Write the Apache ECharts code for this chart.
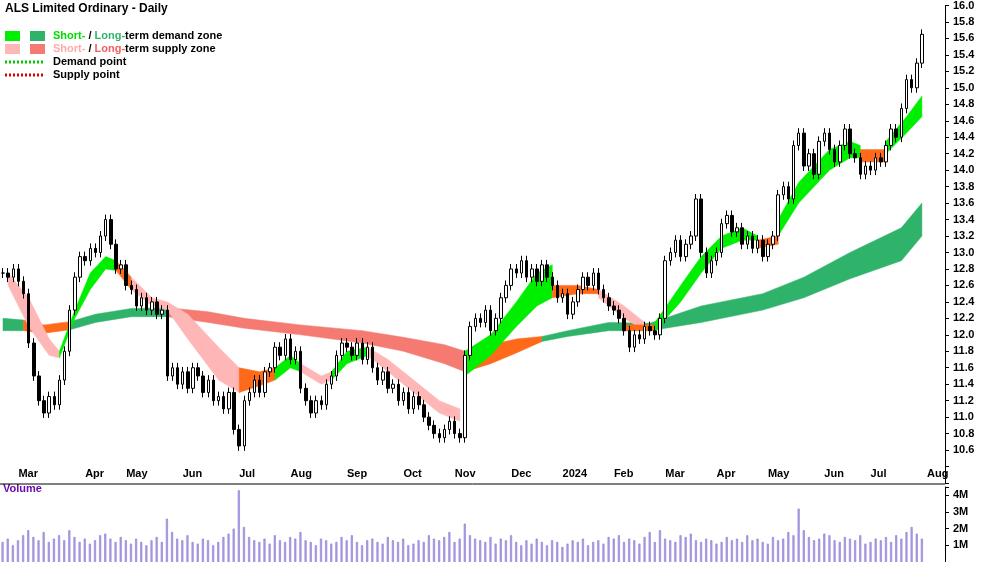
<!DOCTYPE html>
<html><head><meta charset="utf-8">
<script src="https://cdn.jsdelivr.net/npm/echarts@6/dist/echarts.min.js"></script>
<style>html,body{margin:0;padding:0;background:#fff}#c{width:1000px;height:562px}</style>
</head><body><div id="c"></div>
<script>
const closes=[12.75,12.7,12.8,12.65,12.5,11.9,11.5,11.2,11.05,11.25,11.15,11.45,11.8,12.3,12.7,12.95,12.9,13.05,13.0,13.2,13.4,13.1,12.8,12.85,12.6,12.55,12.35,12.45,12.3,12.4,12.25,12.3,11.5,11.6,11.4,11.55,11.35,11.6,11.5,11.3,11.45,11.2,11.25,11.1,11.3,10.85,10.65,11.2,11.3,11.45,11.3,11.55,11.6,11.85,11.75,11.95,11.7,11.8,11.35,11.2,11.05,11.2,11.15,11.4,11.5,11.75,11.9,11.85,11.75,11.9,11.7,11.85,11.6,11.45,11.55,11.35,11.4,11.2,11.3,11.1,11.25,11.15,11.0,10.9,10.8,10.75,10.85,10.95,10.8,10.75,11.75,12.1,12.2,12.15,12.3,12.05,12.2,12.45,12.6,12.8,12.75,12.9,12.7,12.8,12.65,12.85,12.7,12.6,12.45,12.5,12.25,12.4,12.55,12.7,12.6,12.75,12.55,12.45,12.35,12.3,12.2,12.05,11.85,12.0,11.95,12.1,12.05,12.0,12.2,12.9,13.0,13.15,12.95,13.1,13.2,13.65,13.0,12.75,12.9,13.0,13.35,13.45,13.25,13.3,13.1,13.2,13.05,13.15,12.95,13.1,13.2,13.7,13.8,13.65,14.3,14.45,14.05,14.2,13.95,14.35,14.45,14.25,14.1,14.3,14.5,14.2,14.15,13.95,14.05,14.0,14.15,14.1,14.3,14.5,14.4,14.75,15.1,15.0,15.3,15.65];
const volumes=[1.2,1.4,1.0,1.3,1.6,1.9,1.5,1.3,1.8,1.2,1.4,1.6,1.3,1.9,1.5,1.2,1.4,1.1,1.3,1.6,1.7,1.4,1.2,1.5,1.3,1.1,1.4,1.2,1.0,1.3,1.5,1.2,2.6,1.8,1.4,1.3,1.6,1.2,1.1,1.4,1.3,1.0,1.2,1.5,1.7,2.0,4.3,2.1,1.5,1.3,1.2,1.4,1.1,1.6,1.3,1.2,1.5,1.4,1.8,1.3,1.2,1.0,1.4,1.3,1.1,1.2,1.5,1.3,1.6,1.2,1.0,1.3,1.4,1.2,1.1,1.5,1.3,1.2,1.4,1.0,1.1,1.3,1.2,1.6,1.4,1.3,1.5,1.8,1.2,1.4,2.3,1.6,1.4,1.3,1.2,1.5,1.1,1.4,1.3,1.6,1.2,1.0,1.3,1.1,1.4,1.2,1.0,1.3,1.2,0.9,1.1,1.3,1.2,1.4,1.0,1.2,1.3,1.1,1.5,1.4,1.6,1.2,1.4,1.3,1.1,1.5,1.8,1.2,1.9,1.4,1.3,1.2,1.6,1.5,1.7,1.3,1.2,1.4,1.3,1.1,1.2,1.5,1.3,1.4,1.2,1.6,1.3,1.4,1.2,1.1,1.5,1.3,1.4,1.8,1.6,3.2,1.9,1.5,1.3,1.4,1.7,1.6,1.3,1.2,1.5,1.4,1.3,1.6,1.1,1.2,1.4,1.3,1.5,1.2,1.6,1.4,1.8,2.1,1.7,1.4];
const monthTicks=[[3,'Mar'],[16,'Apr'],[24,'May'],[35,'Jun'],[46,'Jul'],[56,'Aug'],[67,'Sep'],[78,'Oct'],[88,'Nov'],[99,'Dec'],[109,'2024'],[119,'Feb'],[129,'Mar'],[139,'Apr'],[149,'May'],[160,'Jun'],[169,'Jul'],[180,'Aug']];
const longBand=[
 ['ld',[[0,12.05,12.2],[4,12.05,12.18]]],
 ['ov',[[4,12.05,12.18],[8,12.02,12.12],[13,12.06,12.16]]],
 ['ld',[[13,12.06,12.16],[18,12.15,12.25],[25,12.22,12.32],[32,12.22,12.33]]],
 ['ls',[[32,12.22,12.33],[40,12.15,12.28],[47,12.08,12.2],[58,12.0,12.12],[70,11.9,12.05],[78,11.8,11.97],[86,11.65,11.88],[90,11.55,11.8]]],
 ['ov',[[90,11.55,11.8],[95,11.65,11.88],[100,11.78,11.95],[105,11.92,11.98]]],
 ['ld',[[105,11.92,11.98],[110,11.98,12.05],[118,12.05,12.15],[126,12.05,12.14],[136,12.15,12.35],[148,12.3,12.5],[156,12.45,12.7],[165,12.68,13.0],[175,12.9,13.3],[179,13.2,13.6]]]];
const shortBand=[
 ['ss',[[1,12.6,12.75],[5,12.1,12.45],[9,11.75,11.95],[11,11.72,11.8]]],
 ['sd',[[11,11.72,11.8],[14,12.2,12.3],[17,12.55,12.75],[20,12.8,12.95],[22,12.78,12.9]]],
 ['ov',[[22,12.78,12.9],[25,12.55,12.7]]],
 ['ss',[[25,12.55,12.7],[29,12.35,12.45],[32,12.3,12.4],[36,11.95,12.25],[42,11.45,11.85],[46,11.3,11.6]]],
 ['ov',[[46,11.3,11.6],[50,11.38,11.55],[53,11.45,11.6]]],
 ['sd',[[53,11.45,11.6],[56,11.6,11.75],[58,11.55,11.65]]],
 ['ss',[[58,11.55,11.65],[62,11.4,11.5],[64,11.45,11.55]]],
 ['sd',[[64,11.45,11.55],[67,11.65,11.8],[71,11.75,11.85]]],
 ['ss',[[71,11.75,11.85],[75,11.55,11.7],[80,11.3,11.45],[85,11.05,11.2],[89,10.95,11.1]]],
 ['sd',[[90,11.5,11.8],[95,11.75,12.0],[100,12.1,12.4],[104,12.35,12.75],[107,12.45,12.85]]],
 ['ov',[[107,12.45,12.6],[112,12.5,12.6],[116,12.5,12.55]]],
 ['ss',[[116,12.45,12.55],[121,12.2,12.35],[125,12.05,12.15]]],
 ['ov',[[121,12.05,12.12],[127,12.05,12.12]]],
 ['sd',[[127,12.05,12.15],[132,12.4,12.6],[136,12.75,12.95],[140,13.05,13.2],[144,13.15,13.3],[147,13.15,13.2]]],
 ['ov',[[147,13.05,13.15],[151,13.1,13.2]]],
 ['sd',[[151,13.2,13.4],[155,13.6,13.85],[161,14.0,14.25],[165,14.15,14.35],[167,14.15,14.3]]],
 ['ov',[[167,14.1,14.25],[172,14.1,14.25]]],
 ['sd',[[172,14.2,14.35],[176,14.45,14.65],[179,14.65,14.9]]]];
const zoneColors={ld:'#2fb36b',sd:'#00ee00',ss:'#ffb6b6',ls:'#f47a72',ov:'#ff6a1a'};

const N=184;
const cats=[];for(let i=0;i<N;i++)cats.push(String(i));
const monthMap={};monthTicks.forEach(m=>monthMap[m[0]]=m[1]);
const candles=closes.map((c,i)=>{const o=i?closes[i-1]:c;return [o,c,Math.min(o,c)-0.06,Math.max(o,c)+0.06];});

function bandSeries(list){return list.map(([k,pts])=>({type:'custom',xAxisIndex:0,yAxisIndex:0,silent:true,z:1,
 data:[0],renderItem:(p,api)=>{const top=pts.map(q=>api.coord([q[0],q[2]]));const bot=pts.slice().reverse().map(q=>api.coord([q[0],q[1]]));
  return {type:'polygon',shape:{points:top.concat(bot)},style:{fill:zoneColors[k],stroke:zoneColors[k],lineWidth:0.5}};}}));}

const chart=echarts.init(document.getElementById('c'));
const F={fontSize:11,fontWeight:'bold',fontFamily:'Arial'};
const rt={t:{...F,fill:'#000'},g:{...F,fill:'#00dd00'},dg:{...F,fill:'#2fb36b'},p:{...F,fill:'#ffaaaa'},r:{...F,fill:'#f06060'}};
function legendItem(y,c1,c2,text){return [{type:'rect',left:5,top:y,shape:{width:15,height:10},style:{fill:c1}},
 {type:'rect',left:30,top:y,shape:{width:15,height:10},style:{fill:c2}},
 {type:'text',left:53,top:y-1,style:{text:text,rich:rt}}];}
chart.setOption({animation:false,
 graphic:[{type:'text',left:5,top:3,style:{text:'ALS Limited Ordinary - Daily',font:'bold 12px Arial',fill:'#000'}},
  ...legendItem(31,'#00ee00','#2fb36b','{g|Short-}{t| / }{dg|Long-}{t|term demand zone}'),
  ...legendItem(44,'#ffb6b6','#f47a72','{p|Short-}{t| / }{r|Long-}{t|term supply zone}'),
  {type:'line',shape:{x1:5,y1:62,x2:45,y2:62},style:{stroke:'#00cc00',lineWidth:3,lineDash:[2,2]}},
  {type:'text',left:53,top:56,style:{text:'Demand point',font:'bold 11px Arial',fill:'#000'}},
  {type:'line',shape:{x1:5,y1:75,x2:45,y2:75},style:{stroke:'#dd0000',lineWidth:3,lineDash:[2,2]}},
  {type:'text',left:53,top:69,style:{text:'Supply point',font:'bold 11px Arial',fill:'#000'}},
  {type:'text',left:3,top:483,style:{text:'Volume',font:'bold 11px Arial',fill:'#6a0dad'}},
  {type:'line',shape:{x1:0,y1:484,x2:945,y2:484},style:{stroke:'#000',lineWidth:1}}],
 grid:[{left:0,right:55,top:5,height:478},{left:0,right:55,top:487,height:75}],
 xAxis:[{type:'category',data:cats,gridIndex:0,boundaryGap:true,axisLine:{show:false},
   axisTick:{inside:true,length:5,alignWithLabel:true,interval:(i)=>monthMap[i]!==undefined,lineStyle:{color:'#000'}},
   axisLabel:{inside:true,margin:4,interval:0,align:'left',fontSize:11,fontWeight:'bold',color:'#000',formatter:(v)=>monthMap[v]||''}},
  {type:'category',data:cats,gridIndex:1,axisLine:{show:false},axisTick:{show:false},axisLabel:{show:false}}],
 yAxis:[{type:'value',gridIndex:0,position:'right',min:10.2,max:16,interval:0.2,splitLine:{show:false},
   axisLine:{show:true,lineStyle:{color:'#000'}},axisTick:{show:true,length:4},
   axisLabel:{fontSize:11,fontWeight:'bold',color:'#000',margin:8,formatter:(v)=>v<10.55?'':v.toFixed(1)}},
  {type:'value',gridIndex:1,position:'right',min:0,max:4.5,interval:1,splitLine:{show:false},
   axisLine:{show:true,lineStyle:{color:'#000'}},axisTick:{show:true,length:4},
   axisLabel:{fontSize:11,fontWeight:'bold',color:'#000',margin:8,formatter:(v)=>v>0&&v<4.5?v+'M':''}}],
 series:[...bandSeries(longBand),...bandSeries(shortBand),
  {type:'candlestick',data:candles,xAxisIndex:0,yAxisIndex:0,z:3,barWidth:3,
   itemStyle:{color:'#fff',color0:'#000',borderColor:'#000',borderColor0:'#000',borderWidth:1}},
  {type:'bar',data:volumes,xAxisIndex:1,yAxisIndex:1,barWidth:2,itemStyle:{color:'#b3a3e8',borderColor:'#7d68c8',borderWidth:0.5}}]
});
</script></body></html>
